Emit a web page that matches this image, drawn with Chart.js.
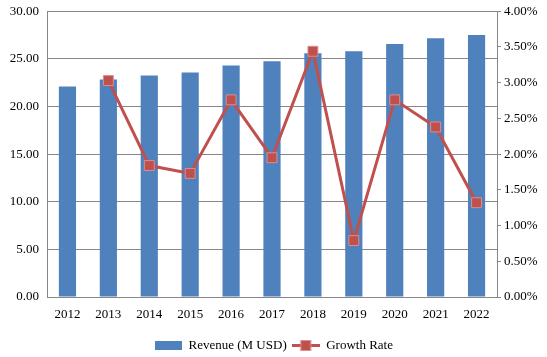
<!DOCTYPE html>
<html>
<head>
<meta charset="utf-8">
<script src="https://cdn.jsdelivr.net/npm/chart.js@4.4.1/dist/chart.umd.min.js"></script>
<style>
html,body{margin:0;padding:0;background:#fff;}
#wrap{width:547px;height:357px;position:relative;}
</style>
</head>
<body>
<div id="wrap"><canvas id="c" width="547" height="357"></canvas></div>
<script>
const categories = ['2012','2013','2014','2015','2016','2017','2018','2019','2020','2021','2022'];
const revenue = [22.10, 22.84, 23.26, 23.58, 24.30, 24.74, 25.60, 25.79, 26.56, 27.16, 27.50];
const growthRate = [null, 3.03, 1.84, 1.73, 2.76, 1.95, 3.44, 0.79, 2.76, 2.38, 1.32];
const revenueLabel = 'Revenue (M USD)';
const growthLabel = 'Growth Rate';

const BLUE = '#4F81BD';
const RED = '#C0504D';
const GRID = '#878787';
const FONT = "'Liberation Serif', 'Times New Roman', serif";

function barIcon(){
  const c = document.createElement('canvas');
  c.width = 27; c.height = 9;
  const x = c.getContext('2d');
  x.fillStyle = BLUE; x.fillRect(0,0,27,9);
  return c;
}
function lineIcon(){
  const c = document.createElement('canvas');
  c.width = 28; c.height = 11;
  const x = c.getContext('2d');
  x.strokeStyle = RED; x.lineWidth = 3;
  x.beginPath(); x.moveTo(0,5.5); x.lineTo(28,5.5); x.stroke();
  x.fillStyle = RED; x.fillRect(9,0.5,10,10);
  x.strokeStyle = '#D88F8D'; x.lineWidth = 1; x.strokeRect(9,0.5,10,10);
  return c;
}

new Chart(document.getElementById('c'), {
  data: {
    labels: categories,
    datasets: [
      {
        type: 'line',
        label: growthLabel,
        data: growthRate,
        yAxisID: 'y1',
        borderColor: RED,
        borderWidth: 3,
        pointStyle: 'rect',
        pointRadius: 7,
        pointBackgroundColor: RED,
        pointBorderColor: '#D88F8D',
        pointBorderWidth: 1,
        tension: 0,
        order: 0
      },
      {
        type: 'bar',
        label: revenueLabel,
        data: revenue,
        yAxisID: 'y',
        backgroundColor: BLUE,
        barPercentage: 0.42,
        categoryPercentage: 1.0,
        order: 1
      }
    ]
  },
  options: {
    responsive: false,
    animation: false,
    layout: { padding: { top: 0, bottom: -5, left: 0, right: 0 } },
    font: { family: FONT },
    plugins: {
      tooltip: { enabled: false },
      legend: {
        position: 'bottom',
        labels: {
          color: '#000',
          font: { family: FONT, size: 13 },
          usePointStyle: true,
          pointStyleWidth: 28,
          padding: 5,
          generateLabels: function(){
            return [
              { text: revenueLabel, pointStyle: barIcon(), fillStyle: BLUE, strokeStyle: BLUE, lineWidth: 0, hidden: false, datasetIndex: 1 },
              { text: growthLabel, pointStyle: lineIcon(), fillStyle: RED, strokeStyle: RED, lineWidth: 0, hidden: false, datasetIndex: 0 }
            ];
          }
        }
      }
    },
    scales: {
      x: {
        offset: true,
        grid: { display: false, drawTicks: false },
        border: { display: true, color: GRID, width: 1 },
        ticks: { color: '#000', font: { family: FONT, size: 13 }, padding: 10, maxRotation: 0 },
        afterFit: function(s){ s.height = 37; }
      },
      y: {
        position: 'left',
        min: 0, max: 30,
        ticks: { stepSize: 5, color: '#000', font: { family: FONT, size: 13, lineHeight: 0.5 }, padding: 8,
                 callback: v => v.toFixed(2) },
        grid: { color: GRID, drawTicks: false, lineWidth: 1 },
        border: { display: true, color: GRID, width: 1 },
        afterFit: function(s){ s.width = 47; }
      },
      y1: {
        position: 'right',
        min: 0, max: 4,
        ticks: { stepSize: 0.5, color: '#000', font: { family: FONT, size: 13 }, padding: 3,
                 callback: v => v.toFixed(2) + '%' },
        grid: { drawOnChartArea: false, drawTicks: true, tickLength: 4, color: GRID },
        border: { display: true, color: GRID, width: 1 },
        afterFit: function(s){ s.width = 50; }
      }
    }
  }
});
</script>
</body>
</html>
